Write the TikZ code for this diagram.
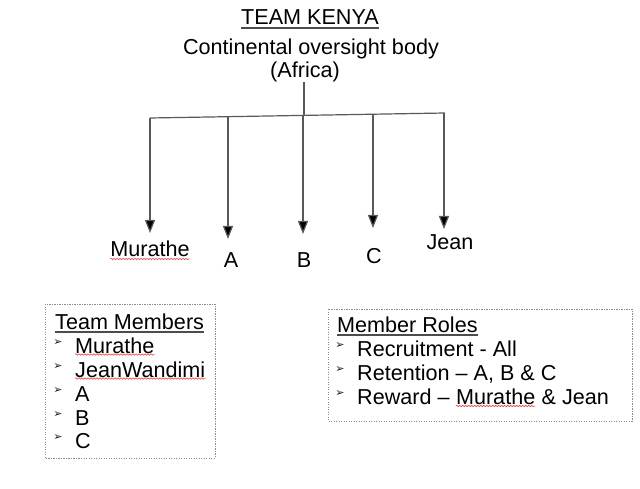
\documentclass[tikz,border=0pt]{standalone}
\usepackage{fontspec}
\setmainfont{Liberation Sans}
\newfontfamily\symfont{DejaVu Sans}
\usetikzlibrary{arrows.meta,decorations.pathmorphing}
\begin{document}
\begin{tikzpicture}[x=1pt,y=-1pt,
  lbl/.style={inner sep=0pt,anchor=base,font=\fontsize{21.6}{25}\selectfont},
  item/.style={inner sep=0pt,anchor=base west,font=\fontsize{21.6}{25}\selectfont},
  bul/.style={inner sep=0pt,anchor=center,font=\symfont\fontsize{11}{12}\selectfont,text=black!90},
  conn/.style={draw=black!65,line width=1.2pt},
  arr/.style={conn,-{Triangle[length=13pt,width=10pt,fill=black]}},
  ul/.style={draw=black!70,line width=1.3pt},
  spell/.style={draw=red!80,line width=0.5pt,decorate,decoration={snake,segment length=3pt,amplitude=0.8pt}},
  dotbox/.style={draw=black!45,line width=1pt,dash pattern=on 1.2pt off 1.3pt}]
\useasboundingbox (0,0) rectangle (640,489);
% titles
\node[lbl] (title) at (310,25) {TEAM KENYA};
\draw[ul] ([yshift=-3pt]title.base west) -- ([yshift=-3pt]title.base east);
\node[lbl] (cont) at (311,55) {Continental oversight body};
\node[lbl] (afr) at (305,78) {(Africa)};
% bar
\coordinate (top) at (304,82);
\coordinate (j) at (304,115.4);
\coordinate (b1) at (150,118);
\coordinate (b2) at (228,116.7);
\coordinate (b3) at (303,115.4);
\coordinate (b4) at (373,114.2);
\coordinate (b5) at (444,113);
\coordinate (bR) at (445,113);
\draw[conn] (top) -- (j);
\draw[conn] (b1) -- (bR);
% member labels
\node[lbl] (m1) at (150,257) {Murathe};
\node[lbl] (m2) at (231,267) {A};
\node[lbl] (m3) at (304,267) {B};
\node[lbl] (m4) at (374,263) {C};
\node[lbl] (m5) at (450,250) {Jean};
\draw[spell] ([yshift=-2pt]m1.base west) -- ([yshift=-2pt]m1.base east);
\coordinate (t1) at (150,233);
\coordinate (t2) at (228,239);
\coordinate (t3) at (303,234);
\coordinate (t4) at (373,228);
\coordinate (t5) at (444,229);
\draw[arr] (b1) -- (t1);
\draw[arr] (b2) -- (t2);
\draw[arr] (b3) -- (t3);
\draw[arr] (b4) -- (t4);
\draw[arr] (b5) -- (t5);
% left box
\draw[dotbox] (45,304) rectangle (215,458);
\node[item] (tm) at (55,329) {Team Members};
\draw[ul] ([yshift=-3pt]tm.base west) -- ([yshift=-3pt]tm.base east);
\foreach \t/\y [count=\i] in {Murathe/353,JeanWandimi/377,A/401,B/425,C/448}{
  \node[bul] (lb\i) at (58,\y-10) {➢};
  \node[item] (li\i) at (75,\y) {\t};
}
\draw[spell] ([yshift=-1.5pt]li1.base west) -- ([yshift=-1.5pt]li1.base east);
\draw[spell] ([yshift=-1.5pt]li2.base west) -- ([yshift=-1.5pt]li2.base east);
% right box
\draw[dotbox] (328,309) rectangle (632,421);
\node[item] (mr) at (337,332) {Member Roles};
\draw[ul] ([yshift=-3pt]mr.base west) -- ([yshift=-3pt]mr.base east);
\node[bul] (rb1) at (340,346) {➢};
\node[item] (ri1) at (357,356) {Recruitment - All};
\node[bul] (rb2) at (340,370) {➢};
\node[item] (ri2) at (357,380) {Retention – A, B \& C};
\node[bul] (rb3) at (340,394) {➢};
\node[item] (ri3a) at (357,404) {Reward –};
\node[item] (ri3b) at ([xshift=6pt]ri3a.base east) {Murathe};
\node[item] (ri3c) at ([xshift=6pt]ri3b.base east) {\& Jean};
\draw[spell] ([yshift=-2pt]ri3b.base west) -- ([yshift=-2pt]ri3b.base east);
\end{tikzpicture}
\end{document}
